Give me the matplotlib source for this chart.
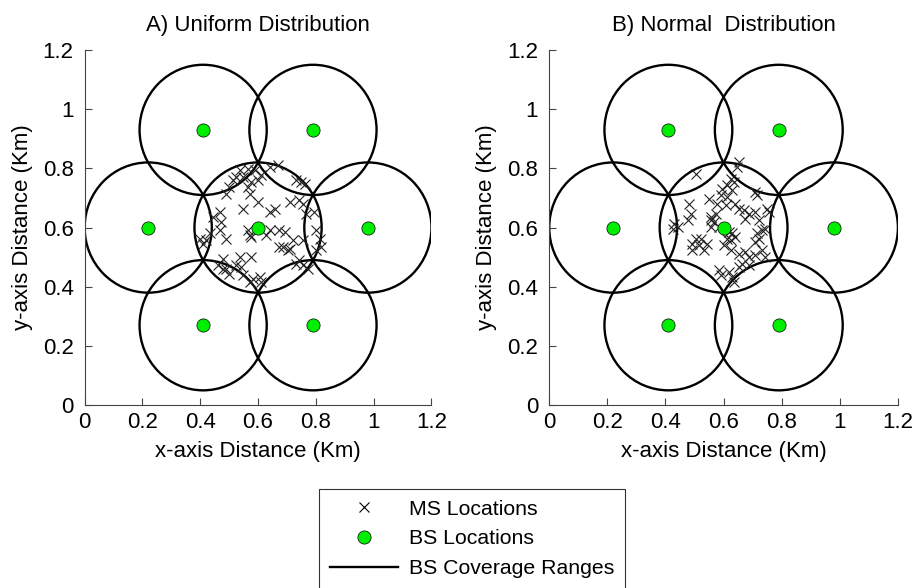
import matplotlib
matplotlib.use('Agg')
import matplotlib.pyplot as plt
from matplotlib.patches import Circle
from matplotlib.lines import Line2D

plt.rcParams['font.family'] = ['Liberation Sans', 'DejaVu Sans']

# Base station locations (Km) and coverage radius
bs_x = [0.6, 0.41, 0.79, 0.22, 0.98, 0.41, 0.79]
bs_y = [0.6, 0.93, 0.93, 0.6, 0.6, 0.27, 0.27]
bs_radius = 0.22

# Mobile station locations - uniform distribution
ms_uni_x = [0.669, 0.536, 0.565, 0.588, 0.611, 0.524, 0.513, 0.547, 0.576, 0.599,
            0.565, 0.501, 0.571, 0.599, 0.547, 0.640, 0.657, 0.709, 0.743, 0.755,
            0.767, 0.732, 0.761, 0.749, 0.467, 0.473, 0.467, 0.490, 0.398, 0.421,
            0.409, 0.565, 0.571, 0.576, 0.640, 0.674, 0.692, 0.686, 0.709, 0.720,
            0.703, 0.795, 0.813, 0.818, 0.801, 0.478, 0.536, 0.576, 0.461, 0.490,
            0.524, 0.542, 0.582, 0.605, 0.611, 0.732, 0.755, 0.772, 0.743, 0.571,
            0.478, 0.501, 0.547, 0.432, 0.444, 0.628, 0.674, 0.755, 0.801, 0.640,
            0.490]
ms_uni_y = [0.810, 0.793, 0.799, 0.793, 0.777, 0.771, 0.760, 0.771, 0.754, 0.760,
            0.737, 0.737, 0.715, 0.686, 0.664, 0.653, 0.664, 0.686, 0.692, 0.681,
            0.647, 0.760, 0.748, 0.754, 0.653, 0.619, 0.591, 0.563, 0.563, 0.557,
            0.546, 0.591, 0.574, 0.568, 0.591, 0.591, 0.585, 0.534, 0.529, 0.557,
            0.523, 0.653, 0.563, 0.534, 0.523, 0.495, 0.501, 0.501, 0.473, 0.461,
            0.473, 0.467, 0.427, 0.433, 0.416, 0.478, 0.473, 0.461, 0.489, 0.416,
            0.461, 0.444, 0.439, 0.580, 0.636, 0.574, 0.534, 0.557, 0.591, 0.805,
            0.715]

# Mobile station locations - normal distribution
ms_norm_x = [0.652, 0.647, 0.504, 0.624, 0.635, 0.612, 0.595, 0.630, 0.590, 0.612,
             0.709, 0.715, 0.550, 0.482, 0.578, 0.607, 0.641, 0.652, 0.669, 0.686,
             0.709, 0.749, 0.755, 0.487, 0.476, 0.556, 0.573, 0.567, 0.430, 0.442,
             0.425, 0.675, 0.721, 0.732, 0.743, 0.715, 0.721, 0.709, 0.630, 0.641,
             0.612, 0.618, 0.504, 0.521, 0.493, 0.516, 0.544, 0.533, 0.493, 0.601,
             0.624, 0.652, 0.675, 0.686, 0.709, 0.743, 0.732, 0.584, 0.618, 0.630,
             0.652, 0.664, 0.686, 0.635, 0.590, 0.556, 0.556, 0.584, 0.624]
ms_norm_y = [0.822, 0.805, 0.782, 0.765, 0.754, 0.743, 0.731, 0.726, 0.709, 0.703,
             0.720, 0.709, 0.698, 0.681, 0.681, 0.675, 0.681, 0.664, 0.658, 0.647,
             0.653, 0.664, 0.653, 0.647, 0.625, 0.625, 0.647, 0.619, 0.613, 0.602,
             0.596, 0.630, 0.625, 0.591, 0.596, 0.580, 0.563, 0.551, 0.580, 0.568,
             0.563, 0.585, 0.563, 0.563, 0.546, 0.540, 0.546, 0.523, 0.523, 0.540,
             0.523, 0.512, 0.518, 0.501, 0.506, 0.501, 0.523, 0.456, 0.450, 0.433,
             0.467, 0.478, 0.473, 0.416, 0.439, 0.602, 0.636, 0.602, 0.557]

ticks = [0, 0.2, 0.4, 0.6, 0.8, 1, 1.2]
tick_labels = ['0', '0.2', '0.4', '0.6', '0.8', '1', '1.2']

fig = plt.figure(figsize=(9.2, 5.88), dpi=100)
ax1 = fig.add_axes([0.092, 0.311, 0.377, 0.604])
ax2 = fig.add_axes([0.597, 0.311, 0.379, 0.604])

panels = [(ax1, ms_uni_x, ms_uni_y, 'A) Uniform Distribution'),
          (ax2, ms_norm_x, ms_norm_y, 'B) Normal  Distribution')]

for ax, mx, my, title in panels:
    ax.plot(mx, my, 'x', color='#222222', markersize=7.5, markeredgewidth=0.8, zorder=3)
    for cx, cy in zip(bs_x, bs_y):
        ax.add_patch(Circle((cx, cy), bs_radius, fill=False, edgecolor='black',
                            linewidth=1.7, zorder=2))
    ax.plot(bs_x, bs_y, 'o', color='#00ee00', markeredgecolor='black',
            markeredgewidth=0.5, markersize=9.5, zorder=4)
    ax.set_xlim(0, 1.2)
    ax.set_ylim(0, 1.2)
    ax.set_xticks(ticks)
    ax.set_xticklabels(tick_labels)
    ax.set_yticks(ticks)
    ax.set_yticklabels(tick_labels)
    ax.spines['top'].set_visible(False)
    ax.spines['right'].set_visible(False)
    ax.spines['left'].set_color('#444444')
    ax.spines['bottom'].set_color('#444444')
    ax.tick_params(direction='in', labelsize=16, length=5, color='#444444')
    ax.tick_params(axis='y', pad=8)
    ax.tick_params(axis='x', pad=5)
    ax.set_xlabel('x-axis Distance (Km)', fontsize=16, labelpad=6)
    ax.set_ylabel('y-axis Distance (Km)', fontsize=16, labelpad=7)
    ax.set_title(title, fontsize=16, pad=14)

handles = [Line2D([], [], linestyle='none', marker='x', color='black', markersize=7,
                  markeredgewidth=0.8),
           Line2D([], [], linestyle='none', marker='o', color='#00ee00',
                  markeredgecolor='black', markeredgewidth=0.5, markersize=9.5),
           Line2D([], [], color='black', linewidth=1.7)]
labels = ['MS Locations', 'BS Locations', 'BS Coverage Ranges']
leg = fig.legend(handles, labels, loc='upper center', bbox_to_anchor=(0.513, 0.168),
                 fontsize=15.3, frameon=True, fancybox=False, edgecolor='black',
                 handlelength=3.2, labelspacing=0.5, borderpad=0.5,
                 handletextpad=0.5, borderaxespad=0)
leg.get_frame().set_linewidth(0.8)

fig.savefig('out.png', dpi=100)
